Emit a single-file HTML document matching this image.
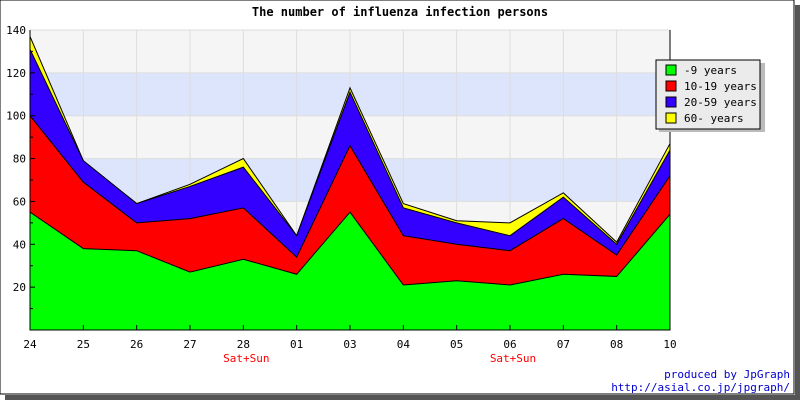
<!DOCTYPE html>
<html><head><meta charset="utf-8"><style>
body{margin:0;background:#fff}
svg{display:block;font-family:"DejaVu Sans Mono","Liberation Mono",monospace}
</style></head><body>
<svg width="800" height="400" id="chart">
<rect x="0" y="0" width="794" height="394" fill="#fff" stroke="#000" stroke-width="1"/>
<rect x="795" y="5" width="5" height="395" fill="#555"/>
<rect x="5" y="395" width="795" height="5" fill="#555"/>
<text x="400" y="16" text-anchor="middle" font-size="12" font-weight="bold">The number of influenza infection persons</text>
<g id="plot"></g>
<g>
<rect x="659" y="63" width="106" height="69" fill="#bbb"/>
<rect x="656" y="60" width="104" height="69" fill="#ebebeb" stroke="#000"/>
</g>
<text x="790" y="378" text-anchor="end" font-size="11" fill="#0000cc">produced by JpGraph</text>
<text x="790" y="391" text-anchor="end" font-size="11" fill="#0000cc">http://asial.co.jp/jpgraph/</text>
</svg>
<script>
const categories=["24","25","26","27","28","01","03","04","05","06","07","08","10"];
const seriesNames=["-9 years","10-19 years","20-59 years","60- years"];
const age0to9=[55,38,37,27,33,26,55,21,23,21,26,25,54];
const age10to19=[45,31,13,25,24,8,31,23,17,16,26,10,18];
const age20to59=[31,10,9,15,19,10,25,13,10,7,10,5,12];
const age60plus=[6,0,0,1,4,0,2,2,1,6,2,1,3];
const yTicks=[20,40,60,80,100,120,140];
const weekendLabels=["28","06"];
const colors=["#00ff00","#ff0000","#3300ff","#ffff00"];
const NS="http://www.w3.org/2000/svg";
const X0=30,X1=670,Y0=330,Y1=30,YMAX=140;
const xs=i=>X0+(X1-X0)*i/(categories.length-1);
const ys=v=>Y0-(Y0-Y1)*v/YMAX;
const g=document.getElementById('plot');
function mk(t,a){const e=document.createElementNS(NS,t);for(const k in a)e.setAttribute(k,a[k]);return e;}
// bands
for(let v=0;v<YMAX;v+=20){
 const r=mk('rect',{x:X0,y:ys(v+20),width:X1-X0,height:ys(v)-ys(v+20),fill:((v/20)%2==1)?'#dce5fb':'#f5f5f5'});
 
 
 g.appendChild(r);
}
categories.forEach((c,i)=>{
 const l=mk('line',{x1:xs(i),x2:xs(i),y1:Y1,y2:Y0,stroke:'#ddd'});
 
 
 g.appendChild(l);
});
yTicks.forEach(v=>{
 const l=mk('line',{x1:X0,x2:X1,y1:ys(v),y2:ys(v),stroke:'#ddd'});
 
 
 g.appendChild(l);
});
const series=[age0to9,age10to19,age20to59,age60plus];
const cum=categories.map(()=>0);
const layers=[];
series.forEach(s=>{const prev=cum.slice();s.forEach((v,i)=>cum[i]+=v);layers.push({prev,top:cum.slice()});});
for(let k=layers.length-1;k>=0;k--){
 const top=layers[k].top;
 let d='M'+xs(0)+','+ys(0);
 top.forEach((v,i)=>d+=' L'+xs(i)+','+ys(v));
 d+=' L'+xs(top.length-1)+','+ys(0)+' Z';
 const p=mk('path',{d,fill:colors[k],stroke:'#000','stroke-width':1});
 
 
 g.appendChild(p);
}
// axes
const ax=mk('path',{d:`M${X0},${Y1} L${X0},${Y0} L${X1},${Y0} L${X1},${Y1}`,fill:'none',stroke:'#000'});


g.appendChild(ax);
for(let v=10;v<YMAX;v+=10){
 const t=mk('line',{x1:X0,x2:X0+(v%20==0?5:3),y1:ys(v),y2:ys(v),stroke:'#000'});
 
 
 g.appendChild(t);
}
yTicks.forEach(v=>{
 const t=mk('text',{x:X0-4,y:ys(v)+4,'text-anchor':'end','font-size':11});
 t.textContent=v;
 
 
 g.appendChild(t);
});
categories.forEach((c,i)=>{
 const tk=mk('line',{x1:xs(i),x2:xs(i),y1:Y0,y2:Y0-5,stroke:'#000'});
 
 
 g.appendChild(tk);
 const t=mk('text',{x:xs(i),y:Y0+18,'text-anchor':'middle','font-size':11});
 t.textContent=c;
 
 
 g.appendChild(t);
 if(weekendLabels.includes(c)&&i>0){
  const w=mk('text',{x:xs(i)+3,y:Y0+32,'text-anchor':'middle','font-size':11,fill:'#ff0000'});
  w.textContent='Sat+Sun';
  
  
  g.appendChild(w);
 }
});
const svg=document.getElementById('chart');
seriesNames.forEach((n,k)=>{
 const y=65+k*16;
 const r=mk('rect',{x:666,y:y,width:10,height:10,fill:colors[k],stroke:'#000'});
 
 
 svg.appendChild(r);
 const t=mk('text',{x:684,y:y+9,'font-size':11});
 t.textContent=n;
 
 
 svg.appendChild(t);
});
</script>
</body></html>
